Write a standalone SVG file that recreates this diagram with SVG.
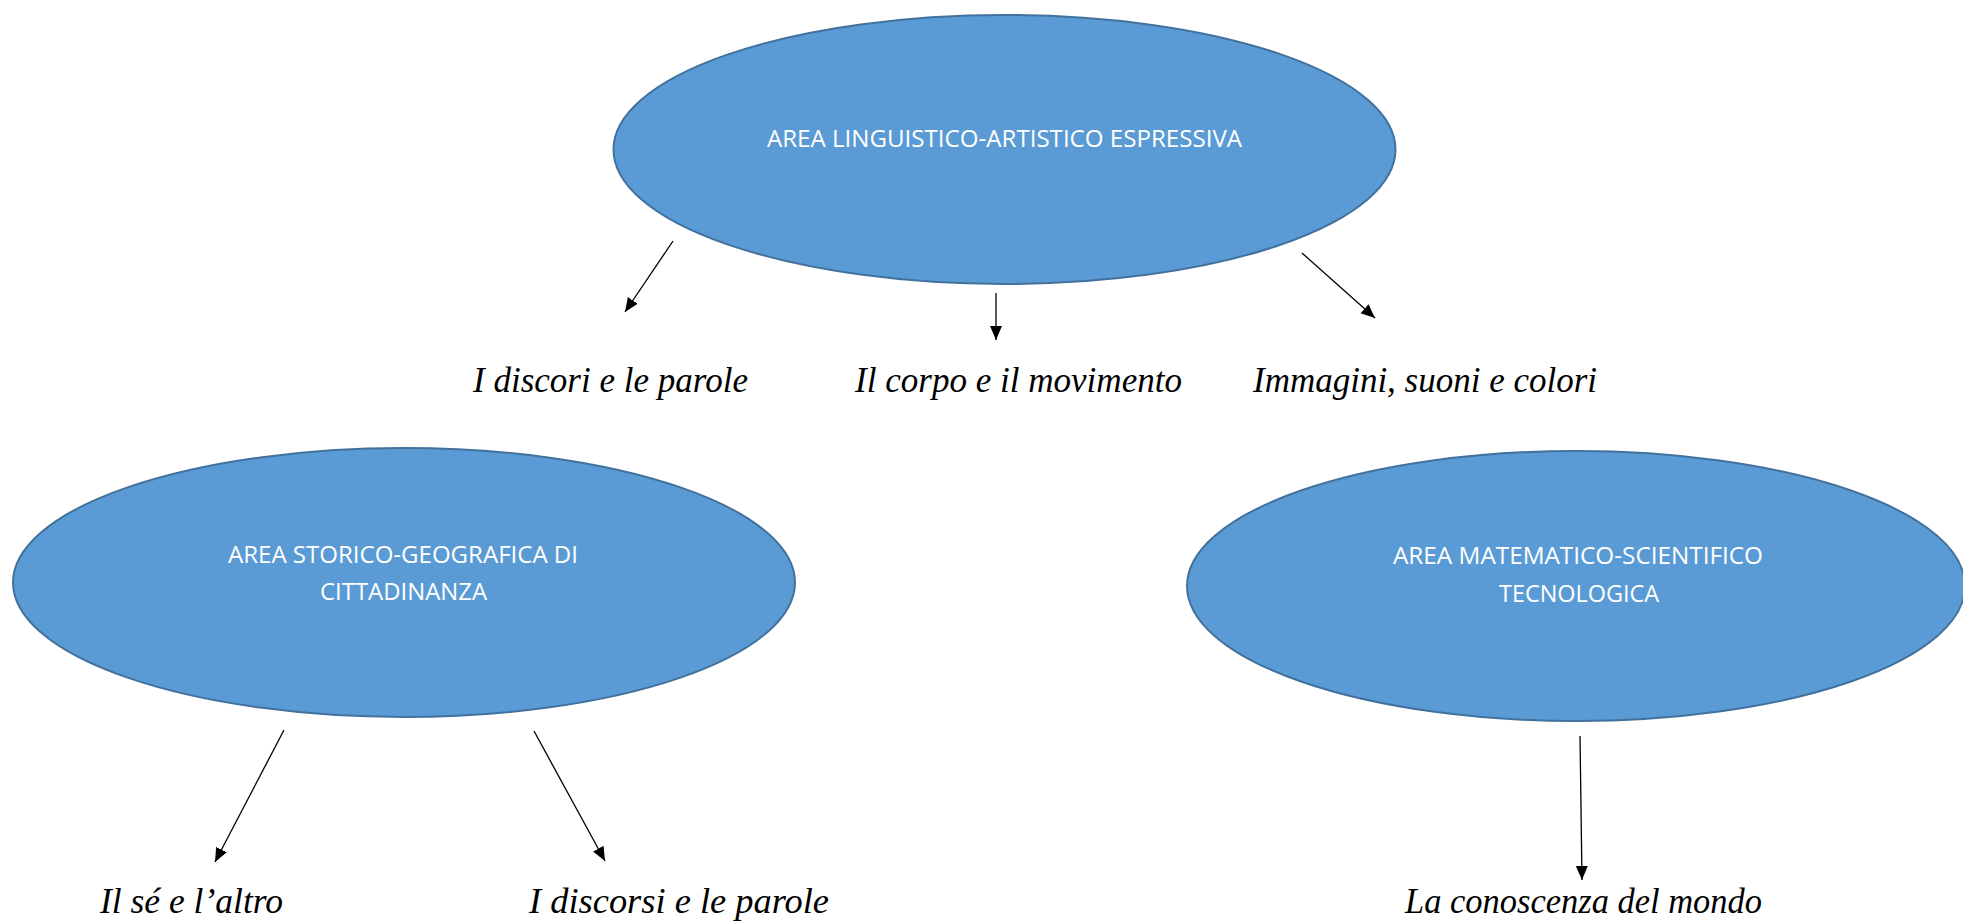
<svg xmlns="http://www.w3.org/2000/svg" width="1963" height="923" viewBox="0 0 1963 923">
  <style>
    .node { fill: #5B9BD5; stroke: #41719C; stroke-width: 2; }
    .area { font-family: "Open Sans", "Liberation Sans", sans-serif; font-size: 24px; fill: #FFFFFF; }
    .lbl { font-family: "Liberation Serif", "Times New Roman", serif; font-style: italic; font-size: 36px; fill: #000000; }
    .conn { stroke: #000000; stroke-width: 1.3; fill: none; marker-end: url(#arrow); }
  </style>
  <defs>
    <marker id="arrow" markerUnits="userSpaceOnUse" markerWidth="15" markerHeight="13" refX="14" refY="6" orient="auto">
      <path d="M0,0 L14,6 L0,12 z" fill="#000000"/>
    </marker>
  </defs>
  <rect width="1963" height="923" fill="#FFFFFF"/>

  <g id="node-linguistico">
    <ellipse class="node" cx="1004.5" cy="149.5" rx="391" ry="134.5"/>
    <text class="area" x="767" y="147" textLength="475" lengthAdjust="spacingAndGlyphs">AREA LINGUISTICO-ARTISTICO ESPRESSIVA</text>
  </g>

  <g id="node-storico">
    <ellipse class="node" cx="404" cy="582.5" rx="391" ry="134.5"/>
    <text class="area" x="228" y="563" textLength="350" lengthAdjust="spacingAndGlyphs">AREA STORICO-GEOGRAFICA DI</text>
    <text class="area" x="320" y="600" textLength="167" lengthAdjust="spacingAndGlyphs">CITTADINANZA</text>
  </g>

  <g id="node-matematico">
    <ellipse class="node" cx="1576" cy="586" rx="389" ry="135"/>
    <text class="area" x="1393" y="564" textLength="370" lengthAdjust="spacingAndGlyphs">AREA MATEMATICO-SCIENTIFICO</text>
    <text class="area" x="1499" y="601.5" textLength="160" lengthAdjust="spacingAndGlyphs">TECNOLOGICA</text>
  </g>

  <g id="connectors">
    <line class="conn" x1="673" y1="241" x2="625" y2="312"/>
    <line class="conn" x1="996" y1="293" x2="996" y2="340"/>
    <line class="conn" x1="1302" y1="253" x2="1375" y2="318"/>
    <line class="conn" x1="284" y1="730" x2="215" y2="862"/>
    <line class="conn" x1="534" y1="731" x2="605" y2="861"/>
    <line class="conn" x1="1580" y1="736" x2="1582" y2="880"/>
  </g>

  <g id="label-discori">
    <text class="lbl" x="473" y="392" textLength="275" lengthAdjust="spacingAndGlyphs">I discori e le parole</text>
  </g>
  <g id="label-corpo">
    <text class="lbl" x="855" y="392" textLength="327" lengthAdjust="spacingAndGlyphs">Il corpo e il movimento</text>
  </g>
  <g id="label-immagini">
    <text class="lbl" x="1253" y="392" textLength="344" lengthAdjust="spacingAndGlyphs">Immagini, suoni e colori</text>
  </g>
  <g id="label-se">
    <text class="lbl" x="100" y="913" textLength="183" lengthAdjust="spacingAndGlyphs">Il sé e l’altro</text>
  </g>
  <g id="label-discorsi">
    <text class="lbl" x="529" y="913" textLength="300" lengthAdjust="spacingAndGlyphs">I discorsi e le parole</text>
  </g>
  <g id="label-conoscenza">
    <text class="lbl" x="1405" y="913" textLength="357" lengthAdjust="spacingAndGlyphs">La conoscenza del mondo</text>
  </g>
</svg>
